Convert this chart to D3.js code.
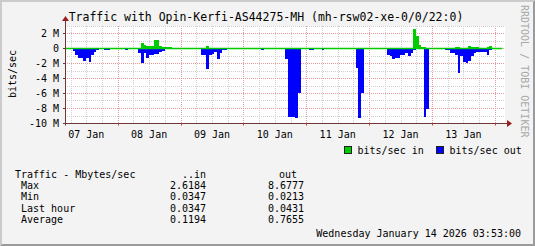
<!DOCTYPE html>
<html>
<head>
<meta charset="utf-8">
<script src="https://cdn.jsdelivr.net/npm/d3@7"></script>
<style>
  body { margin: 0; background: #f3f3f3; }
  text { font-family: "DejaVu Sans Mono", monospace; fill: #000; }
</style>
</head>
<body>
<div id="graph"></div>
<script>
var graphStart = new Date(2026, 0, 7, 3, 53, 0);
var graphEnd = new Date(2026, 0, 14, 3, 53, 0);
var graphTitle = "Traffic with Opin-Kerfi-AS44275-MH (mh-rsw02-xe-0/0/22:0)";

// hourly averages, Mbit/s, from graphStart
var inMbits = [
  .035,.035,.035,.035,.035,.13,.035,.035,.035,.035,.035,.035,
  .035,.035,.035,.035,.035,.035,.035,.035,.035,.035,.035,.035,
  .035,.035,.035,.035,.035,.75,.5,.35,.35,.35,1.1,1.1,
  .35,.2,.2,.2,.2,.035,.035,.035,.035,.035,.035,.035,
  .035,.035,.035,.035,.035,.035,.3,.035,.035,.035,.035,.035,
  .035,.035,.035,.035,.035,.035,.035,.035,.035,.035,.035,.035,
  .035,.035,.035,.035,.035,.035,.035,.035,.035,.035,.035,.035,
  .035,.035,.035,.035,.035,.035,.035,.035,.035,.035,.035,.035,
  .035,.035,.035,.035,.035,.035,.035,.035,.035,.035,.035,.035,
  .035,.035,.035,.035,.035,.035,.035,.035,.035,.035,.035,.035,
  .035,.035,.035,.035,.035,.035,.035,.035,.035,.035,.035,.035,
  .035,2.62,1.7,.5,.2,.2,.035,.035,.035,.035,.035,.035,
  .035,.035,.035,.035,.035,.17,.17,.035,.035,.035,.3,.15,
  .15,.15,.035,.035,.035,.2,.3,.1,.035,.035,.035,null
];
var outMbits = [
  .03,.03,.03,.3,.9,1.25,1.3,1.65,1.25,1.8,.9,.5,
  .25,.03,.03,.2,.2,.03,.03,.03,.03,.03,.03,.2,
  .03,.03,.03,.03,.66,1.9,.66,1.2,.9,.9,.75,.75,
  .45,.3,.03,.03,.03,.03,.03,.03,.03,.03,.03,.03,
  .03,.03,.03,.03,.9,.9,2.75,.9,.7,.45,1.4,.6,
  .2,.2,.03,.03,.03,.03,.03,.03,.03,.03,.03,.03,
  .03,.03,.03,.2,.1,.03,.03,.03,.03,.03,.03,.03,
  1.4,9.07,9.07,9.07,9.2,5.9,.03,.03,.03,.15,.15,.03,
  .03,.03,.15,.03,.03,.03,.03,.03,.03,.03,.03,.03,
  .03,.03,.03,2.6,9.3,5.9,.03,.03,.03,.03,.03,.03,
  .03,.03,.03,.8,1.0,1.45,1.2,1.3,.9,.9,.66,1.0,
  .6,.25,.1,.1,.1,9.07,8.05,.1,.1,.1,.03,.03,
  .03,.15,.15,.66,.66,.9,3.3,1.0,1.85,1.9,1.6,1.0,
  .66,.45,.4,.4,.5,.9,.2,.05,.05,.05,.05,null
];

var dayLabels = ["07 Jan", "08 Jan", "09 Jan", "10 Jan", "11 Jan", "12 Jan", "13 Jan"];
var yTickValues = [2, 0, -2, -4, -6, -8, -10];
var yTickLabels = ["2 M", "0", "-2 M", "-4 M", "-6 M", "-8 M", "-10 M"];
var legendNames = ["bits/sec in", "bits/sec out"];
var legendColors = ["#00cc00", "#0000ff"];
var statNames = ["Max", "Min", "Last hour", "Average"];
var statIn = ["2.6184", "0.0347", "0.0347", "0.1194"];
var statOut = ["8.6777", "0.0213", "0.0431", "0.7655"];
var footerDate = "Wednesday January 14 2026 03:53:00";

function TrafficGraph(append_to) {
  var that = {};
  that.width = 535;
  that.height = 246;
  that.plot = {left: 65, right: 505, top: 26, bottom: 123.5};

  that.x = d3.scaleTime().domain([graphStart, graphEnd]).range([that.plot.left, that.plot.right]);
  that.y = d3.scaleLinear().domain([-10, 3]).range([that.plot.bottom, that.plot.top]);

  that.svg = d3.select(append_to).append("svg")
    .attr("width", that.width)
    .attr("height", that.height)
    .style("display", "block");

  // frame + canvas
  that.svg.append("rect").attr("width", that.width).attr("height", that.height).attr("fill", "#f3f3f3");
  that.svg.append("path").attr("fill", "#cbcbcb")
    .attr("d", "M0,0H535L533,2H2V244L0,246Z");
  that.svg.append("path").attr("fill", "#9b9b9b")
    .attr("d", "M535,0V246H0L2,244H533V2Z");
  that.svg.append("rect")
    .attr("x", that.plot.left).attr("y", that.plot.top)
    .attr("width", that.plot.right - that.plot.left)
    .attr("height", that.plot.bottom - that.plot.top)
    .attr("fill", "#fff");

  var grid = that.svg.append("g").attr("stroke-dasharray", "1,1").attr("fill", "none");
  var hours6 = d3.timeHour.every(6).range(graphStart, graphEnd);
  hours6.forEach(function(t) {
    var px = Math.round(that.x(t)) + 0.5;
    grid.append("line")
      .attr("x1", px).attr("x2", px)
      .attr("y1", that.plot.top).attr("y2", that.plot.bottom)
      .attr("stroke", t.getHours() === 0 ? "#ea9a9a" : "#cfcfcf");
  });
  d3.range(-10, 4).forEach(function(v) {
    var py = Math.round(that.y(v) - 0.5) + 0.5;
    grid.append("line")
      .attr("x1", that.plot.left).attr("x2", that.plot.right)
      .attr("y1", py).attr("y2", py)
      .attr("stroke", v % 2 === 0 ? "#ea9a9a" : "#cfcfcf");
  });

  function series(values) {
    var pts = [];
    values.forEach(function(v, i) {
      if (v !== null) pts.push({t: d3.timeHour.offset(graphStart, i), v: v});
    });
    var last = pts[pts.length - 1];
    pts.push({t: d3.timeHour.offset(last.t, 1), v: last.v});
    return pts;
  }
  that.inData = series(inMbits);
  that.outData = series(outMbits);

  that.inArea = d3.area()
    .x(function(d) { return that.x(d.t); })
    .y0(that.y(0))
    .y1(function(d) { return that.y(d.v); })
    .curve(d3.curveStepAfter);
  that.outArea = d3.area()
    .x(function(d) { return that.x(d.t); })
    .y0(that.y(0))
    .y1(function(d) { return that.y(-d.v); })
    .curve(d3.curveStepAfter);

  that.svg.append("path").datum(that.inData)
    .attr("d", that.inArea).attr("fill", legendColors[0]).attr("shape-rendering", "crispEdges");
  that.svg.append("path").datum(that.outData)
    .attr("d", that.outArea).attr("fill", legendColors[1]).attr("shape-rendering", "crispEdges");

  that.zeroLine = d3.line()
    .x(function(d) { return that.x(d.t); })
    .y(function() { return that.y(0); });
  that.svg.append("path").datum([that.inData[0], that.inData[that.inData.length - 1]])
    .attr("d", that.zeroLine).attr("stroke", legendColors[0]).attr("stroke-width", 1.5).attr("fill", "none");

  // axes
  var axisColor = "#6b3838";
  var y0 = that.plot.bottom;
  that.svg.append("line")
    .attr("x1", that.plot.left - 2).attr("x2", that.plot.right + 2)
    .attr("y1", y0).attr("y2", y0).attr("stroke", axisColor);
  that.svg.append("line")
    .attr("x1", that.plot.left + 0.5).attr("x2", that.plot.left + 0.5)
    .attr("y1", that.plot.bottom + 2).attr("y2", that.plot.top - 5).attr("stroke", axisColor);
  that.svg.append("path").attr("fill", "#9a1c1c")
    .attr("d", "M" + (that.plot.right + 2) + "," + (y0 - 3.5) + "l5,3.5l-5,3.5z");
  that.svg.append("path").attr("fill", "#9a1c1c")
    .attr("d", "M" + (that.plot.left - 3) + "," + (that.plot.top - 5) + "l3.5,-5l3.5,5z");

  var days = d3.timeDay.range(d3.timeDay.ceil(graphStart), graphEnd);
  days.forEach(function(t) {
    var px = Math.round(that.x(t)) + 0.5;
    that.svg.append("line").attr("x1", px).attr("x2", px)
      .attr("y1", y0).attr("y2", y0 + 2).attr("stroke", "#c04040");
  });
  yTickValues.forEach(function(v) {
    var py = Math.round(that.y(v) - 0.5) + 0.5;
    that.svg.append("line").attr("x1", that.plot.left - 2).attr("x2", that.plot.left)
      .attr("y1", py).attr("y2", py).attr("stroke", axisColor);
  });

  that.svg.selectAll(".ylab").data(yTickValues).enter().append("text")
    .attr("class", "ylab")
    .attr("x", 59)
    .attr("y", function(d) { return that.y(d) + 3; })
    .attr("text-anchor", "end")
    .style("font-size", "10px")
    .text(function(d, i) { return yTickLabels[i]; });

  var noons = d3.timeDay.range(d3.timeDay.floor(graphStart), graphEnd).map(function(d) {
    return d3.timeHour.offset(d, 12);
  });
  that.svg.selectAll(".xlab").data(noons).enter().append("text")
    .attr("class", "xlab")
    .attr("x", function(d) { return that.x(d); })
    .attr("y", 137.5)
    .attr("text-anchor", "middle")
    .style("font-size", "10px")
    .text(function(d, i) { return dayLabels[i]; });

  that.svg.append("text")
    .attr("x", 266).attr("y", 20.5)
    .attr("text-anchor", "middle")
    .style("font-size", "11.5px")
    .text(graphTitle);

  that.svg.append("text")
    .attr("transform", "translate(15.5,74) rotate(-90)")
    .attr("text-anchor", "middle")
    .style("font-size", "10px")
    .text("bits/sec");

  that.svg.append("text")
    .attr("transform", "translate(520.5,5) rotate(90)")
    .style("font-size", "10px")
    .style("fill", "#a8a8a8")
    .text("RRDTOOL / TOBI OETIKER");

  // legend
  var legendX = [344, 436];
  legendNames.forEach(function(name, i) {
    that.svg.append("rect")
      .attr("x", legendX[i] + 0.5).attr("y", 146.5)
      .attr("width", 7).attr("height", 7)
      .attr("fill", legendColors[i]).attr("stroke", "#222");
    that.svg.append("text")
      .attr("x", legendX[i] + 13.5).attr("y", 153.5)
      .style("font-size", "10px")
      .text(name);
  });

  that.svg.append("text").attr("x", 15).attr("y", 177.5).style("font-size", "10px").text("Traffic - Mbytes/sec");
  that.svg.append("text").attr("x", 206).attr("y", 177.5).attr("text-anchor", "end").style("font-size", "10px").text("..in");
  that.svg.append("text").attr("x", 279).attr("y", 177.5).style("font-size", "10px").text("out");
  var rowY = [189, 200.3, 211.6, 222.9];
  statNames.forEach(function(name, i) {
    that.svg.append("text").attr("x", 21).attr("y", rowY[i]).style("font-size", "10px").text(name);
    that.svg.append("text").attr("x", 206).attr("y", rowY[i]).attr("text-anchor", "end").style("font-size", "10px").text(statIn[i]);
    that.svg.append("text").attr("x", 304).attr("y", rowY[i]).attr("text-anchor", "end").style("font-size", "10px").text(statOut[i]);
  });
  that.svg.append("text").attr("x", 521).attr("y", 236.5).attr("text-anchor", "end")
    .style("font-size", "10px").text(footerDate);

  return that;
}

TrafficGraph("#graph");
</script>
</body>
</html>
